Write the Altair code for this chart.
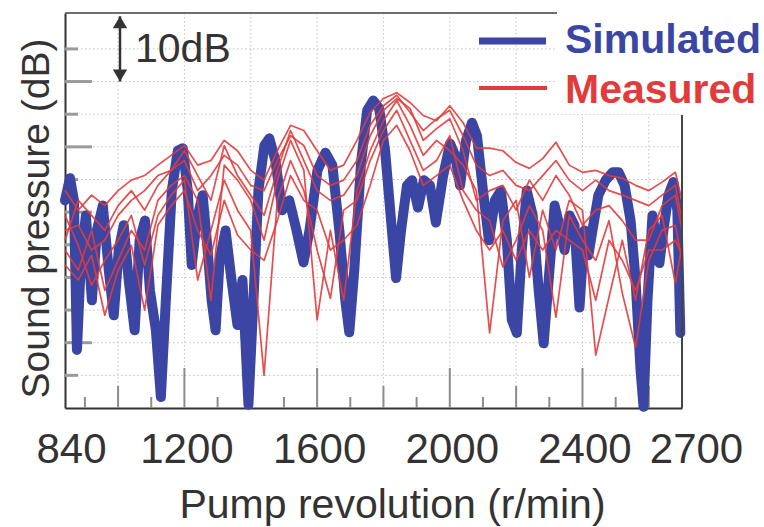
import altair as alt
import pandas as pd

FONT = "Liberation Sans"
BLUE = "#3b45a3"
RED = "#e23b3b"
INK = "#333333"

# Simulated sound pressure (relative dB) vs pump speed (r/min)
sim_rpm = [840, 855, 867, 876, 888, 903, 921, 936, 954, 972,
           987, 1002, 1017, 1032, 1050, 1065, 1081, 1096, 1114, 1129,
           1144, 1162, 1180, 1195, 1210, 1222, 1237, 1255, 1270, 1282,
           1294, 1306, 1324, 1342, 1360, 1375, 1393, 1408, 1423, 1441,
           1456, 1474, 1495, 1516, 1538, 1559, 1577, 1601, 1625, 1646,
           1667, 1685, 1697, 1712, 1733, 1751, 1769, 1787, 1805, 1823,
           1838, 1853, 1871, 1886, 1904, 1922, 1940, 1958, 1980, 2001,
           2016, 2031, 2049, 2067, 2082, 2100, 2118, 2136, 2154, 2172,
           2187, 2202, 2217, 2232, 2250, 2268, 2283, 2298, 2316, 2334,
           2346, 2361, 2376, 2391, 2406, 2418, 2430, 2448, 2470, 2491,
           2509, 2527, 2545, 2560, 2575, 2584, 2596, 2611, 2623, 2632,
           2644, 2659, 2674, 2686, 2695]
sim_db = [31.8, 35.2, 31.8, 8.9, 22.6, 29.5, 16.5, 27.2, 31.0, 21.1,
          14.2, 24.2, 28.0, 19.6, 11.9, 25.7, 28.7, 18.0, 11.9, 1.7,
          16.5, 33.3, 39.4, 39.8, 33.3, 21.9, 28.7, 32.6, 24.2, 16.5,
          11.9, 22.6, 27.2, 19.6, 12.7, 19.6, 0.5, 16.5, 33.3, 40.2,
          41.3, 37.9, 30.3, 31.8, 27.2, 22.3, 27.2, 36.4, 39.1, 37.2,
          27.2, 16.5, 11.6, 21.1, 37.9, 45.6, 47.1, 45.9, 39.4, 28.7,
          19.9, 27.2, 34.1, 34.9, 30.7, 34.9, 34.1, 28.4, 35.6, 40.5,
          38.7, 34.1, 41.0, 43.7, 41.7, 33.3, 25.7, 31.8, 33.3, 25.7,
          13.5, 11.5, 24.2, 33.3, 29.5, 18.0, 9.9, 19.6, 31.0, 27.2,
          24.2, 29.5, 28.0, 15.4, 27.2, 23.4, 27.2, 32.6, 34.9, 36.1,
          36.1, 34.1, 28.7, 19.6, 5.8, 0.2, 16.5, 29.5, 25.7, 22.2,
          27.2, 32.6, 34.6, 30.3, 11.5]

# Measured runs, sampled every 40 r/min
meas_rpm = [840, 880, 920, 960, 1000, 1040, 1080, 1120, 1160, 1200,
            1240, 1280, 1320, 1360, 1400, 1440, 1480, 1520, 1560, 1600,
            1640, 1680, 1720, 1760, 1800, 1840, 1880, 1920, 1960, 2000,
            2040, 2080, 2120, 2160, 2200, 2240, 2280, 2320, 2360, 2400,
            2440, 2480, 2520, 2560, 2600, 2640, 2680, 2700]
run_1 = [33.3, 30.3, 32.6, 31.0, 33.3, 34.9, 35.6, 37.2, 38.7, 40.2,
         37.2, 37.9, 41.0, 39.4, 36.4, 34.9, 39.4, 43.3, 42.5, 39.4,
         36.4, 37.2, 41.0, 45.3, 47.4, 48.3, 46.8, 44.8, 44.0, 46.3,
         43.7, 39.8, 39.8, 39.4, 37.6, 36.7, 38.2, 40.7, 37.2, 36.1,
         36.4, 35.6, 35.2, 34.1, 33.3, 34.6, 36.1, 31.8]
run_2 = [27.2, 28.0, 24.2, 25.7, 29.5, 31.8, 33.3, 35.6, 36.4, 37.9,
         33.3, 35.6, 38.7, 37.2, 34.1, 33.3, 37.9, 41.7, 40.2, 35.6,
         34.1, 34.9, 37.9, 43.3, 46.3, 47.9, 45.3, 42.5, 44.3, 45.6,
         41.7, 37.2, 35.6, 36.4, 34.1, 33.3, 35.6, 37.9, 34.9, 33.3,
         34.9, 33.3, 32.6, 31.8, 31.0, 32.6, 34.1, 28.7]
run_3 = [24.2, 21.1, 27.2, 18.0, 22.6, 27.2, 24.2, 31.8, 34.1, 35.6,
         31.8, 16.5, 37.2, 34.9, 31.8, 25.7, 34.9, 41.0, 36.4, 13.5,
         27.2, 16.5, 33.3, 39.4, 44.0, 47.1, 43.3, 38.7, 41.0, 39.4,
         37.2, 33.3, 11.5, 28.7, 31.8, 20.0, 30.3, 24.2, 31.8, 30.3,
         8.1, 17.0, 25.7, 16.5, 27.2, 29.5, 19.1, 24.9]
run_4 = [29.5, 24.9, 18.8, 22.6, 25.7, 29.5, 21.9, 29.5, 32.6, 34.9,
         19.6, 27.2, 34.9, 30.3, 27.2, 5.0, 31.8, 37.9, 33.3, 24.2,
         16.8, 30.3, 31.8, 37.9, 42.5, 45.6, 41.0, 36.4, 37.9, 41.7,
         33.3, 30.3, 28.7, 21.6, 25.7, 31.0, 27.2, 13.9, 29.5, 25.7,
         22.6, 28.7, 17.6, 9.3, 22.6, 27.2, 28.0, 22.6]
run_5 = [21.9, 19.6, 23.4, 14.2, 21.1, 24.9, 15.0, 28.0, 31.0, 33.3,
         27.2, 23.4, 31.8, 26.5, 24.2, 22.6, 28.7, 35.6, 31.8, 30.3,
         24.2, 25.7, 28.0, 34.1, 41.0, 43.3, 39.4, 34.1, 35.6, 37.2,
         31.8, 27.2, 24.2, 27.2, 22.6, 27.2, 24.2, 27.2, 25.7, 24.2,
         16.5, 25.7, 22.6, 18.0, 24.2, 24.2, 25.7, 23.4]
run_6 = [25.7, 31.8, 29.5, 27.2, 31.0, 33.3, 30.3, 34.1, 36.4, 39.4,
         35.6, 31.8, 40.2, 35.6, 32.6, 29.5, 36.4, 42.5, 37.9, 33.3,
         31.8, 32.6, 35.6, 41.7, 45.6, 47.4, 45.9, 41.0, 42.8, 44.3,
         39.4, 31.8, 33.3, 34.1, 30.3, 34.9, 31.8, 35.6, 32.6, 28.0,
         30.3, 31.0, 28.7, 25.7, 25.7, 31.0, 32.6, 27.2]

# Axis labels, grid and tick positions
x_labels = [840, 1200, 1600, 2000, 2400, 2700]
x_grid = [1000, 1200, 1400, 1600, 1800, 2000, 2200, 2400, 2600]
x_tick_long = [1200, 1600, 2000, 2400]
x_tick_mid = [1000, 1400, 1800, 2200, 2600]
x_tick_short = [900, 1100, 1300, 1500, 1700, 1900, 2100, 2300, 2500]
y_grid = [5, 10, 15, 20, 25, 30, 35, 40, 45, 50, 55]
y_tick_long = [10, 20, 30, 40, 50]
y_tick_short = [5, 15, 25, 35, 45, 55]
scale_bar = [50, 60]

W, H = 617, 395

sim_df = pd.DataFrame({"rpm": sim_rpm, "spl": sim_db})
runs = [run_1, run_2, run_3, run_4, run_5, run_6]
for r in runs:
    assert len(r) == len(meas_rpm)
meas_df = pd.concat(
    [pd.DataFrame({"rpm": meas_rpm, "spl": r, "run": i + 1}) for i, r in enumerate(runs)],
    ignore_index=True,
)

xs = alt.Scale(domain=[840, 2700], nice=False, zero=False)
ys = alt.Scale(domain=[0, 60.5], nice=False, zero=False)

x_axis = alt.Axis(
    values=x_labels, format="d", title="Pump revolution (r/min)", grid=False,
    ticks=False, tickSize=0, domainColor=INK, domainWidth=2, labelFont=FONT,
    labelFontSize=42, labelColor=INK, labelPadding=54, labelBaseline="alphabetic",
    labelFlush=False, labelOverlap=False,
    labelOffset={"expr": "datum.value == 2700 ? 14 : (datum.value == 840 ? 6 : 2)"},
    titleFont=FONT, titleFontSize=41, titleFontWeight="normal", titleColor=INK,
    titleX=327, titleY=109, titleAlign="center", titleBaseline="alphabetic",
)
y_axis = alt.Axis(
    title="Sound pressure (dB)", grid=False, ticks=False, labels=False,
    domainColor=INK, domainWidth=2, titleFont=FONT, titleFontSize=39,
    titleFontWeight="normal", titleColor=INK, titleAngle=270, titleX=-17,
    titleY=205, titleAlign="center", titleBaseline="alphabetic",
)


def X(field="rpm:Q"):
    return alt.X(field, scale=xs, axis=x_axis)


def Y(field="spl:Q"):
    return alt.Y(field, scale=ys, axis=y_axis)


one = pd.DataFrame({"k": [0]})

grid_style = dict(color="#c2c2c2", strokeWidth=1, strokeDash=[1.5, 2.5])

vgrid = alt.Chart(pd.DataFrame({"rpm": x_grid})).mark_rule(**grid_style).encode(
    x=X(), y=alt.value(0), y2=alt.value(H))
hgrid = alt.Chart(pd.DataFrame({"spl": y_grid})).mark_rule(**grid_style).encode(
    y=Y(), x=alt.value(0), x2=alt.value(W))

# blank box behind the key, hiding the frame corner and grid there
key_box = alt.Chart(one).mark_rect(color="white").encode(
    x=alt.value(492), x2=alt.value(W + 90), y=alt.value(-13), y2=alt.value(101))


def xticks(vals, length):
    return alt.Chart(pd.DataFrame({"rpm": vals})).mark_rule(color="#8c8c8c", strokeWidth=2).encode(
        x=X(), y=alt.value(H), y2=alt.value(H - length))


def yticks(vals, length):
    return alt.Chart(pd.DataFrame({"spl": vals})).mark_rule(color="#9a9a9a", strokeWidth=3).encode(
        y=Y(), x=alt.value(0), x2=alt.value(length))


simulated = alt.Chart(sim_df).mark_line(
    color=BLUE, strokeWidth=10, strokeJoin="round", strokeCap="round"
).encode(x=X(), y=Y())

measured = alt.Chart(meas_df).mark_line(
    color=RED, strokeWidth=1.7, opacity=0.9, strokeJoin="round"
).encode(x=X(), y=Y(), detail="run:N")

frame_top = alt.Chart(one).mark_rule(color="#6e6e6e", strokeWidth=2).encode(
    x=alt.value(0), x2=alt.value(492), y=alt.value(0))
frame_right = alt.Chart(one).mark_rule(color="#444444", strokeWidth=2).encode(
    x=alt.value(W), y=alt.value(102), y2=alt.value(H))

# 10 dB scale bar
bar = alt.Chart(pd.DataFrame({"spl": [min(scale_bar)], "top": [max(scale_bar)]})).mark_rule(
    color=INK, strokeWidth=2.5
).encode(x=alt.value(55), y=Y(), y2="top:Q")
head_up = alt.Chart(pd.DataFrame({"spl": [max(scale_bar)]})).mark_point(
    shape="M0,0L0.9,1.5L-0.9,1.5Z", size=256, filled=True, color=INK, opacity=1
).encode(x=alt.value(55), y=Y())
head_down = alt.Chart(pd.DataFrame({"spl": [min(scale_bar)]})).mark_point(
    shape="M0,0L0.9,-1.5L-0.9,-1.5Z", size=256, filled=True, color=INK, opacity=1
).encode(x=alt.value(55), y=Y())
bar_label = alt.Chart(one).mark_text(
    text="10dB", font=FONT, fontSize=41, color=INK, align="left", baseline="alphabetic"
).encode(x=alt.value(70), y=alt.value(49))

# key
key_sim_line = alt.Chart(one).mark_rule(color=BLUE, strokeWidth=7).encode(
    x=alt.value(414), x2=alt.value(481), y=alt.value(28))
key_meas_line = alt.Chart(one).mark_rule(color=RED, strokeWidth=4).encode(
    x=alt.value(414), x2=alt.value(482), y=alt.value(75))
key_sim_text = alt.Chart(one).mark_text(
    text="Simulated", font=FONT, fontSize=41, fontWeight="bold", color=BLUE,
    align="left", baseline="alphabetic"
).encode(x=alt.value(500), y=alt.value(40))
key_meas_text = alt.Chart(one).mark_text(
    text="Measured", font=FONT, fontSize=41, fontWeight="bold", color=RED,
    align="left", baseline="alphabetic"
).encode(x=alt.value(500), y=alt.value(90))

chart = alt.layer(
    vgrid, hgrid, key_box,
    xticks(x_tick_long, 40), xticks(x_tick_mid, 22), xticks(x_tick_short, 11),
    yticks(y_tick_long, 27), yticks(y_tick_short, 13),
    simulated, measured,
    frame_top, frame_right,
    bar, head_up, head_down, bar_label,
    key_sim_line, key_meas_line, key_sim_text, key_meas_text,
).properties(
    width=W, height=H,
    padding={"left": 65, "top": 13, "right": 82, "bottom": 119},
    autosize=alt.AutoSizeParams(type="none"),
    background="white",
).configure_view(stroke=None)

chart.save("out.html", embed_options={"renderer": "svg", "actions": False})
